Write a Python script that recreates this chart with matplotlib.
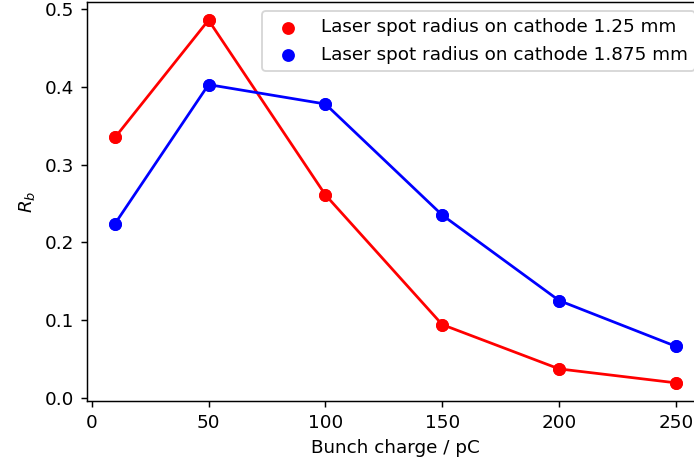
import matplotlib
matplotlib.use("Agg")
import matplotlib.pyplot as plt

charge = [10, 50, 100, 150, 200, 250]
rb_125 = [0.335, 0.486, 0.261, 0.094, 0.037, 0.019]
rb_1875 = [0.224, 0.403, 0.378, 0.235, 0.125, 0.066]
label_125 = "Laser spot radius on cathode 1.25 mm"
label_1875 = "Laser spot radius on cathode 1.875 mm"

dpi = 132
fig = plt.figure(figsize=(694 / dpi, 468 / dpi), dpi=dpi)
ax = fig.add_axes([87 / 694, 1 - 401 / 468, (704 - 87) / 694, (401 - 2) / 468])

ax.scatter(charge, rb_125, color="red", label=label_125)
ax.plot(charge, rb_125, color="red", marker="o")
ax.scatter(charge, rb_1875, color="blue", label=label_1875)
ax.plot(charge, rb_1875, color="blue", marker="o")

ax.set_xlabel("Bunch charge / pC")
ax.set_ylabel("$R_b$")
ax.legend(loc="upper right")

fig.savefig("out.png", dpi=dpi)
